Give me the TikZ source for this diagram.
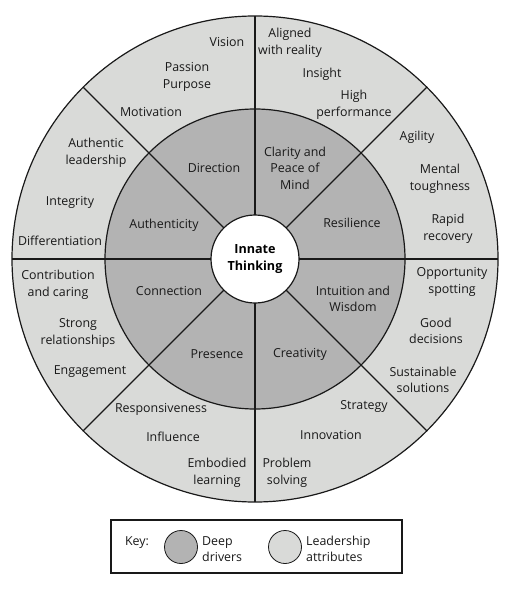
\documentclass[tikz,border=0pt]{standalone}
\usepackage{fontspec}
\setmainfont{Open Sans}
\usetikzlibrary{calc}
\begin{document}
\begin{tikzpicture}[x=1pt,y=1pt,
  lbl/.style={align=center,font=\fontsize{12.4}{16.5}\selectfont,inner sep=0pt,text=black!90},
  lbll/.style={align=left,font=\fontsize{12.4}{16.5}\selectfont,inner sep=0pt,anchor=west,text=black!90},
  ring/.style={draw=black!90,line width=1.2pt}]
\definecolor{deep}{RGB}{179,179,179}
\definecolor{attr}{RGB}{217,218,216}
\useasboundingbox (0,0) rectangle (514,-596);
\coordinate (C) at (255,-259);
% rings
\fill[attr] (C) circle (243);
\fill[deep] (C) circle (150);
\foreach \a in {0,45,...,315}{
  \draw[black!90,line width=1.2pt] ($(C)+(\a:44)$) -- ($(C)+(\a:243)$);
}
\draw[ring] (C) circle (243);
\draw[ring] (C) circle (150);
\node[ring,fill=white,circle,minimum size=88pt,inner sep=0pt,align=center,
  font=\fontsize{12.6}{17}\selectfont\bfseries] (core) at (C) {Innate\\Thinking};
% inner ring labels
\node[lbl] (dir) at (214,-168) {Direction};
\node[lbl] (cla) at (295,-168) {Clarity and\\Peace of\\Mind};
\node[lbl] (res) at (352,-223) {Resilience};
\node[lbl] (int) at (353,-299) {Intuition and\\Wisdom};
\node[lbl] (cre) at (300,-354) {Creativity};
\node[lbl] (pre) at (217,-354) {Presence};
\node[lbl] (con) at (169,-291) {Connection};
\node[lbl] (aut) at (164,-225) {Authenticity};
% outer ring labels
\node[lbl] (vis) at (227,-42) {Vision};
\node[lbl] (pas) at (187,-77) {Passion\\Purpose};
\node[lbl] (mot) at (151,-112) {Motivation};
\node[lbl] (ali) at (290,-43) {Aligned\\with reality};
\node[lbl] (ins) at (322,-74) {Insight};
\node[lbl] (hig) at (354,-105) {High\\performance};
\node[lbl] (agi) at (417,-137) {Agility};
\node[lbl] (men) at (440,-179) {Mental\\toughness};
\node[lbl] (rap) at (448,-229) {Rapid\\recovery};
\node[lbl] (opp) at (452,-282) {Opportunity\\spotting};
\node[lbl] (goo) at (436,-331) {Good\\decisions};
\node[lbl] (sus) at (423,-380) {Sustainable\\solutions};
\node[lbl] (str) at (364,-406) {Strategy};
\node[lbl] (inn) at (331,-435) {Innovation};
\node[lbl] (pro) at (287,-473) {Problem\\solving};
\node[lbl] (emb) at (217,-473) {Embodied\\learning};
\node[lbl] (inf) at (173,-437) {Influence};
\node[lbl] (rsp) at (161,-409) {Responsiveness};
\node[lbl] (eng) at (90,-372) {Engagement};
\node[lbl] (srl) at (78,-333) {Strong\\relationships};
\node[lbl] (ctb) at (58,-285) {Contribution\\and caring};
\node[lbl] (dif) at (60,-241) {Differentiation};
\node[lbl] (itg) at (70,-202) {Integrity};
\node[lbl] (aul) at (96,-153) {Authentic\\leadership};
% key
\node[draw=black!90,line width=1.2pt,minimum width=291pt,minimum height=53pt,inner sep=0pt] (key) at (256.5,-546.5) {};
\node[lbl] (keyl) at (137,-543) {Key:};
\node[circle,draw=black!90,line width=0.8pt,fill=deep,minimum size=33pt,inner sep=0pt] (kd) at (181,-547) {};
\node[circle,draw=black!90,line width=0.8pt,fill=attr,minimum size=33pt,inner sep=0pt] (ka) at (285,-547) {};
\node[lbll] (kdt) at (202,-549) {Deep\\drivers};
\node[lbll] (kat) at (306,-549) {Leadership\\attributes};
\end{tikzpicture}
\end{document}
